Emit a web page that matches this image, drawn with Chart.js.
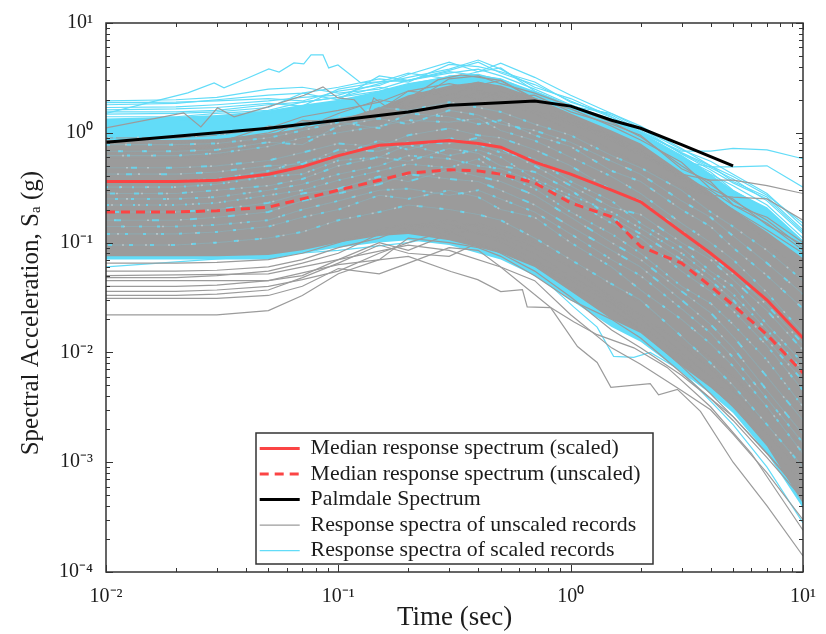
<!DOCTYPE html>
<html><head><meta charset="utf-8">
<style>html,body{margin:0;padding:0;background:#fff}#w{width:826px;height:634px}canvas{display:block;filter:blur(0.35px)}</style>
<script src="https://cdn.jsdelivr.net/npm/chart.js@4"></script></head>
<body><div id="w"><canvas id="c" width="826" height="634"></canvas></div>
<script>
const periods=[.01,.02,.03,.05,.07,.1,.15,.2,.3,.4,.5,.7,1,1.5,2,3,4,5,7,10];
const medianScaled=[.36,.36,.37,.42,.49,.62,.77,.80,.85,.80,.74,.54,.42,.30,.235,.125,.08,.055,.03,.0135];
const medianUnscaled=[.19,.19,.195,.21,.25,.30,.37,.43,.46,.45,.42,.35,.23,.172,.092,.065,.04,.027,.0145,.0065];
const palmdaleT=[.01,.03,.05,.1,.2,.3,.5,.7,1,1.5,2,3,5];
const palmdale=[.82,1.0,1.1,1.3,1.55,1.78,1.88,1.95,1.75,1.3,1.1,.78,.5];

const grayUpper=[.86,.86,.88,.98,1.1,1.3,1.7,2.2,2.7,2.9,2.7,2.1,1.5,1.05,.8,.44,.29,.2,.125,.072];
const grayLower=[.075,.075,.075,.077,.085,.10,.115,.12,.105,.09,.08,.06,.036,.02,.015,.0075,.0048,.0032,.0014,.00042];
const cyanUpper=[1.35,1.4,1.45,1.6,1.8,2.0,2.4,2.8,3.3,3.4,3.1,2.4,1.8,1.35,1.0,.62,.42,.3,.21,.105];
const cyanLower=[.07,.07,.07,.07,.08,.09,.1,.105,.095,.08,.07,.05,.03,.017,.0125,.0066,.0042,.0028,.0012,.00038];

const grayEdge1=[.022,.022,.022,.024,.033,.052,.07,.11,.10,.09,.075,.05,.03,.02,.0135,.0065,.0038,.0026,.0012,.0005];
const grayEdge2=[.031,.031,.031,.033,.04,.058,.052,.065,.09,.085,.06,.045,.022,.011,.0078,.0045,.003,.0018,.0008,.0003];
const grayEdge3=[.033,.033,.034,.037,.048,.065,.095,.08,.075,.10,.08,.055,.032,.016,.011,.0062,.0038,.0024,.0011,.00046];
const grayEdge4=[.036,.036,.037,.04,.046,.055,.08,.10,.13,.095,.085,.065,.04,.025,.016,.0075,.0042,.0026,.0012,.00052];
const grayEdge5=[.04,.04,.041,.045,.05,.07,.10,.085,.12,.13,.10,.07,.045,.028,.018,.009,.005,.0032,.0015,.00065];
const grayEdge6=[.048,.048,.05,.055,.065,.08,.12,.13,.15,.12,.11,.08,.05,.03,.02,.01,.006,.0038,.0018,.0008];
const grayEdge7=[.055,.055,.056,.06,.07,.09,.11,.14,.16,.14,.12,.09,.06,.032,.022,.012,.007,.0045,.0022,.001];
const grayEdge8=[.065,.065,.066,.07,.08,.1,.13,.15,.13,.15,.13,.10,.07,.04,.028,.014,.009,.006,.003,.0014];
const grayTop1=[.9,.9,.95,1.1,1.4,1.6,1.9,2.4,2.8,2.5,2.2,1.6,1.2,.85,.62,.42,.37,.37,.33,.28];
const grayTop2=[.7,.7,.75,.85,.95,1.1,1.5,1.7,2.0,2.3,1.9,1.5,1.05,.7,.5,.32,.27,.26,.25,.16];
const grayTop3=[.8,.82,.85,1.0,1.25,1.35,1.55,2.1,2.5,2.9,2.6,1.9,1.4,.95,.7,.4,.3,.22,.15,.085];
const grayTop4=[.62,.62,.66,.8,1.0,1.2,1.7,1.45,2.3,2.0,2.4,1.75,1.25,.9,.66,.38,.26,.2,.13,.08];
const grayTop5=[.75,.75,.8,1.15,1.1,1.5,2.0,1.8,3.1,3.3,2.8,2.3,1.75,1.25,.92,.5,.34,.24,.16,.09];
const grayTop6=[.66,.68,.72,.9,1.3,1.25,1.6,2.4,2.2,2.7,3.0,2.05,1.65,1.15,.86,.54,.31,.25,.145,.095];
const grayTop7=[.58,.58,.62,.75,.9,1.05,1.3,1.85,2.6,2.4,2.1,2.2,1.55,1.2,.95,.47,.36,.22,.17,.1];
const grayTallT=[.01,.0216,.0256,.0302,.0356,.0497,.0713,.0859,.0996,.117,.134,.142,.168,.268,.337,.5,.7,1,1.5,2,3,5,10];
const grayTall=[1.11,1.52,1.13,1.69,1.40,1.72,2.2,2.62,2.08,2.0,1.46,2.08,1.62,3.03,3.37,3.0,2.0,1.35,.9,.7,.4,.2,.05];
const grayLowT=[.01,.05,.1,.2,.305,.398,.5,.62,.65,.82,1.07,1.3,1.49,2.2,2.39,2.88,3.62,5,7,10];
const grayLow=[.045,.045,.063,.075,.0546,.046,.0358,.0373,.026,.0256,.0113,.0081,.0048,.0052,.0041,.0046,.0029,.001,.0004,.00014];
const grayLow2T=[.01,.05,.1,.2,.3,.5,.82,1.03,1.3,1.87,2.6,4,6,10];
const grayLow2=[.05,.052,.07,.095,.085,.06,.0256,.019,.0145,.011,.0073,.0032,.0012,.00024];

const cyanTop1=[1.95,2.0,2.1,2.5,2.6,2.3,2.5,3.0,3.5,3.8,3.3,2.5,1.8,1.3,1.1,.7,.55,.42,.28,.14];
const cyanTop2=[1.8,1.85,2.0,2.2,2.3,2.6,3.1,2.9,4.2,4.0,3.6,2.9,1.9,1.45,1.05,.65,.48,.38,.24,.12];
const cyanTop3=[1.7,1.72,1.8,1.95,2.1,2.2,2.8,3.2,3.8,4.6,3.8,2.6,2.05,1.4,1.0,.62,.42,.33,.22,.11];
const cyanTop4=[1.55,1.55,1.6,1.8,1.9,2.1,2.6,2.4,3.3,3.4,3.0,2.3,1.7,1.2,.95,.6,.44,.3,.2,.1];
const cyanTop5=[1.4,1.4,1.5,1.6,1.9,2.1,2.4,2.8,3.2,3.1,2.8,2.2,1.8,1.3,1.0,.68,.68,.72,.7,.58];
const cyanTop6=[1.3,1.3,1.35,1.5,1.7,1.9,2.2,2.6,2.9,3.0,2.6,2.05,1.6,1.2,.9,.55,.49,.49,.5,.32];
const cyanTop7=[1.62,1.65,1.7,1.85,1.75,2.5,2.9,3.5,3.1,3.6,4.3,3.2,2.2,1.5,1.1,.64,.46,.35,.25,.125];
const cyanTop8=[1.48,1.5,1.55,1.7,2.3,2.0,3.3,3.0,3.7,4.4,3.5,2.75,1.95,1.38,1.02,.66,.5,.36,.26,.13];
const cyanTop9=[1.88,1.9,1.95,2.05,1.95,2.4,2.7,3.4,4.4,3.6,3.9,2.4,1.75,1.5,1.15,.72,.5,.4,.27,.15];
const cyanPeakT=[.01,.0225,.0292,.0322,.0408,.0502,.0556,.0644,.071,.0763,.0859,.0909,.0996,.125,.2,.3,.5,.7,1,1.5,2,3,5,10];
const cyanPeak=[1.5,2.31,2.85,2.57,3.16,3.82,3.58,4.33,4.24,5.12,5.12,3.9,4.15,2.85,3.0,3.6,3.1,2.3,1.7,1.2,.9,.55,.28,.09];
const cyanLowT=[.01,.1,.2,.3,.5,.7,1.03,1.3,1.53,1.87,2.2,3,5,7,10];
const cyanLow=[.06,.085,.1,.12,.09,.055,.026,.017,.0092,.009,.01,.0068,.0022,.0009,.00028];

const cyanMid1=[.78,.78,.8,.9,1.05,1.25,1.1,1.5,1.4,1.2,1.3,.95,.75,.45,.36,.2,.14,.09,.05,.025];
const cyanMid2=[.62,.62,.65,.75,.9,1.0,1.15,1.3,1.25,1.35,1.05,.85,.6,.4,.28,.15,.1,.07,.035,.015];
const cyanMid3=[.48,.48,.5,.56,.66,.8,.75,.95,1.1,.95,.9,.7,.5,.3,.24,.13,.075,.052,.027,.012];
const cyanMid4=[.36,.36,.38,.45,.55,.62,.85,.7,.9,.78,.66,.58,.36,.24,.15,.09,.055,.04,.018,.008];
const cyanMid5=[.28,.28,.3,.33,.38,.5,.6,.55,.72,.65,.5,.44,.3,.17,.12,.07,.045,.03,.013,.0055];
const cyanMid6=[.22,.22,.23,.27,.3,.37,.45,.52,.48,.58,.42,.31,.19,.12,.08,.04,.028,.018,.0085,.0032];
const cyanMid7=[.16,.16,.17,.19,.24,.28,.34,.42,.38,.36,.3,.22,.14,.085,.06,.03,.018,.011,.0045,.0018];
const cyanMid8=[.12,.12,.125,.14,.17,.2,.27,.25,.3,.26,.2,.17,.1,.06,.037,.02,.012,.0075,.0032,.0012];
const cyanMid9=[.095,.095,.1,.11,.125,.16,.19,.22,.2,.18,.16,.11,.07,.042,.03,.014,.008,.005,.0022,.0009];
const cyanMid10=[.9,.92,.95,1.1,1.2,1.4,1.7,1.6,1.9,1.7,1.55,1.2,.95,.62,.48,.3,.19,.14,.085,.045];
const cyanMid11=[.42,.42,.44,.5,.52,.7,.68,.82,.8,.9,.72,.5,.33,.21,.18,.1,.07,.046,.024,.0105];
const cyanMid12=[.25,.25,.26,.3,.34,.42,.5,.62,.58,.5,.47,.36,.25,.15,.11,.055,.036,.024,.0115,.0045];
const cyanMid13=[.68,.68,.7,.82,.78,1.15,1.35,1.2,1.6,1.45,1.2,1.05,.82,.55,.42,.24,.17,.115,.065,.034];
const cyanMid14=[.32,.32,.34,.4,.42,.56,.6,.78,.62,.7,.6,.38,.27,.19,.135,.08,.05,.034,.016,.0068];
const cyanMid15=[.19,.19,.2,.23,.28,.31,.4,.36,.46,.4,.36,.27,.17,.1,.07,.036,.023,.014,.006,.0024];
const cyanMid16=[.14,.14,.145,.16,.2,.24,.3,.31,.27,.3,.25,.19,.12,.07,.05,.025,.015,.009,.0038,.0015];

const majorTicks=[.01,.1,1,10];
const yMajorTicks=[.0001,.001,.01,.1,1,10];
const labelScaled='Median response spectrum (scaled)';
const labelUnscaled='Median response spectrum (unscaled)';
const labelPalmdale='Palmdale Spectrum';
const labelGray='Response spectra of unscaled records';
const labelCyan='Response spectra of scaled records';
const legendOrder=[labelScaled,labelUnscaled,labelPalmdale,labelGray,labelCyan];

const GRAY='#9b9b9b',CYAN='#62dcf8',RED='#fb4444',INK='#1c1c1c';
const SERIF='"Liberation Serif","Times New Roman",serif';
const pts=(t,v)=>t.map((x,i)=>({x,y:v[i]}));
const line=(t,v,color,width,order,extra)=>Object.assign({data:pts(t,v),borderColor:color,backgroundColor:color,borderWidth:width,pointRadius:0,tension:0,fill:false,order},extra||{});

const datasets=[
 line(periods,medianScaled,RED,3,1,{label:labelScaled}),
 line(periods,medianUnscaled,RED,3,2,{label:labelUnscaled,borderDash:[9,6]}),
 line(palmdaleT,palmdale,'#000',3,3,{label:labelPalmdale})
];
const mids=[cyanMid1,cyanMid2,cyanMid3,cyanMid4,cyanMid5,cyanMid6,cyanMid7,cyanMid8,cyanMid9,cyanMid10,cyanMid11,cyanMid12,cyanMid13,cyanMid14,cyanMid15,cyanMid16];
const speckle=[[4,17],[3,23],[6,29],[3,13],[5,19],[2,11],[7,31],[3,15]];
mids.forEach((v,i)=>{
 datasets.push(line(periods,v,'rgba(98,220,248,.2)',1.1,4));
 datasets.push(line(periods,v,'rgba(98,220,248,.8)',2,4,{borderDash:speckle[i%8],borderDashOffset:i*5}));
 datasets.push(line(periods,v,'rgba(205,205,205,.75)',1.6,4,{borderDash:[2,speckle[(i+3)%8][1]+8],borderDashOffset:i*9+4}));
});
[grayEdge1,grayEdge2,grayEdge3,grayEdge4,grayEdge5,grayEdge6,grayEdge7,grayEdge8,grayTop1,grayTop2,grayTop3,grayTop4,grayTop5,grayTop6,grayTop7].forEach(v=>datasets.push(line(periods,v,GRAY,1.2,5)));
datasets.push(line(grayTallT,grayTall,GRAY,1.2,5,{label:labelGray}));
datasets.push(line(grayLowT,grayLow,GRAY,1.2,5));
datasets.push(line(grayLow2T,grayLow2,GRAY,1.2,5));
datasets.push(line(periods,grayUpper,'rgb(155,155,155)',0,6,{fill:'+1'}));
datasets.push(line(periods,grayLower,'rgb(155,155,155)',0,6));
[cyanTop1,cyanTop2,cyanTop3,cyanTop4,cyanTop5,cyanTop6,cyanTop7,cyanTop8,cyanTop9].forEach(v=>datasets.push(line(periods,v,CYAN,1.2,7)));
datasets.push(line(cyanPeakT,cyanPeak,CYAN,1.2,7,{label:labelCyan}));
datasets.push(line(cyanLowT,cyanLow,CYAN,1.2,7));
datasets.push(line(periods,cyanUpper,CYAN,0,8,{fill:'+1'}));
datasets.push(line(periods,cyanLower,CYAN,0,8));

function minors(lo,hi){const a=[];for(let d=lo;d<hi;d++)for(let k=2;k<=9;k++)a.push(k*Math.pow(10,d));return a;}
const frame={id:'frame',
 beforeDraw(c){const l=c.legend;l.left=256;l.right=660;l.top=434;l.bottom=630;},
 afterDatasetsDraw(c){const x=c.ctx;x.save();x.fillStyle='#fff';x.strokeStyle='#333';x.lineWidth=1.5;x.fillRect(256,433,397,131);x.strokeRect(256,433,397,131);x.restore();c.legend.draw();},
 afterDraw(c){const {ctx:x,chartArea:a,scales:{x:sx,y:sy}}=c;x.save();x.strokeStyle='#333';x.lineWidth=1.5;x.strokeRect(a.left,a.top,a.right-a.left,a.bottom-a.top);x.lineWidth=1;x.beginPath();
  const hm=minors(-2,1),vm=minors(-4,1);
  const xt=(v,l)=>{const p=Math.round(sx.getPixelForValue(v))+.5;x.moveTo(p,a.bottom);x.lineTo(p,a.bottom-l);x.moveTo(p,a.top);x.lineTo(p,a.top+l);};
  const yt=(v,l)=>{const p=Math.round(sy.getPixelForValue(v))+.5;x.moveTo(a.left,p);x.lineTo(a.left+l,p);x.moveTo(a.right,p);x.lineTo(a.right-l,p);};
  hm.forEach(v=>xt(v,4));majorTicks.forEach(v=>xt(v,7));vm.forEach(v=>yt(v,4));yMajorTicks.forEach(v=>yt(v,7));
  x.stroke();x.restore();}
};
const SUP={'-':'⁻','0':'⁰','1':'¹','2':'²','3':'³','4':'⁴'};
const expLabel=v=>{const e=Math.round(Math.log10(v));return '10'+String(e).split('').map(ch=>SUP[ch]).join('');};

new Chart(document.getElementById('c'),{type:'line',data:{datasets},plugins:[frame],options:{
 responsive:false,animation:false,events:[],
 layout:{padding:{left:0,right:23,top:23,bottom:0}},
 plugins:{tooltip:{enabled:false},title:{display:false},
  legend:{display:true,position:'chartArea',align:'start',
   labels:{color:INK,font:{family:SERIF,size:21.8},usePointStyle:true,pointStyle:'line',pointStyleWidth:40,boxHeight:6,padding:3.7,
    generateLabels:ch=>Chart.defaults.plugins.legend.labels.generateLabels(ch).map(it=>{const d=ch.data.datasets[it.datasetIndex];it.lineDash=d.borderDash||[];it.lineWidth=d.borderWidth;it.strokeStyle=d.borderColor;return it;}),
    filter:i=>!!i.text,sort:(a,b)=>legendOrder.indexOf(a.text)-legendOrder.indexOf(b.text)}}},
 scales:{
  x:{type:'logarithmic',min:.01,max:10,afterFit:s=>{s.height=62;},afterBuildTicks:s=>{s.ticks=majorTicks.map(value=>({value,major:true}));},
   grid:{display:false},border:{display:false},
   ticks:{color:INK,font:{family:SERIF,size:20},autoSkip:false,maxRotation:0,padding:5,callback:expLabel},
   title:{display:true,text:'Time (sec)',color:INK,font:{family:SERIF,size:27},padding:{top:0,bottom:0}}},
  y:{type:'logarithmic',min:.0001,max:10,afterFit:s=>{s.width=106;},afterBuildTicks:s=>{s.ticks=yMajorTicks.map(value=>({value,major:true}));},
   grid:{display:false},border:{display:false},
   ticks:{color:INK,font:{family:SERIF,size:20},autoSkip:false,padding:5,callback:expLabel},
   title:{display:true,text:'Spectral Acceleration, Sₐ (g)     ',color:INK,font:{family:SERIF,size:25},padding:{top:16,bottom:4}}}
 }}});
</script></body></html>
